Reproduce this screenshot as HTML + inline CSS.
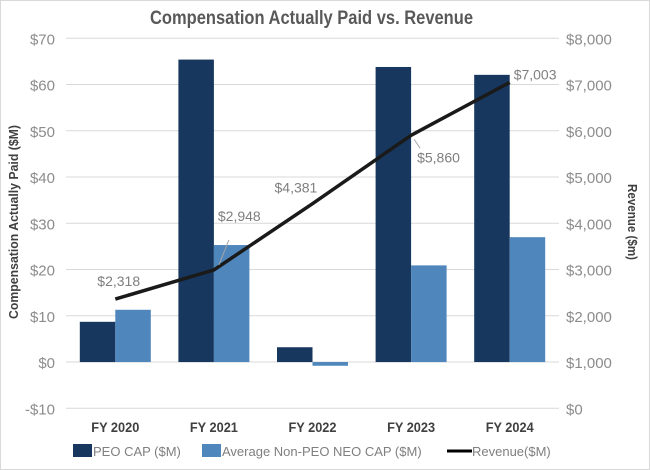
<!DOCTYPE html>
<html><head><meta charset="utf-8"><style>
body{margin:0;background:#fff;}
svg{display:block;font-family:"Liberation Sans",sans-serif;}
</style></head><body>
<svg id="chart" width="650" height="470">
<rect x="0.5" y="0.5" width="649" height="469" fill="#fff" stroke="#d9d9d9"/>
<text x="150" y="24" textLength="323" lengthAdjust="spacingAndGlyphs" font-size="19" font-weight="bold" fill="#595959">Compensation Actually Paid vs. Revenue</text>
<text transform="translate(18,222) rotate(-90)" x="-97" textLength="194" lengthAdjust="spacingAndGlyphs" font-size="13" font-weight="bold" fill="#404040">Compensation Actually Paid ($M)</text>
<text transform="translate(628,222) rotate(90)" x="-38" textLength="76" lengthAdjust="spacingAndGlyphs" font-size="13" font-weight="bold" fill="#404040">Revenue ($m)</text>
<g id="grid"></g><g id="bars"></g><g id="line"></g><g id="labels"></g>
<g font-size="13" fill="#7f7f7f">
<rect x="73" y="444" width="19" height="13" fill="#17375e"/>
<text x="93" y="456" fill="#7f7f7f">PEO CAP ($M)</text>
<rect x="202" y="444" width="19" height="13" fill="#4f86bb"/>
<text x="222" y="456" fill="#7f7f7f">Average Non-PEO NEO CAP ($M)</text>
<line x1="447" y1="451" x2="472" y2="451" stroke="#000" stroke-width="3"/>
<text x="472" y="456" fill="#7f7f7f">Revenue($M)</text>
</g>
</svg>
<script>
const categories=["FY 2020","FY 2021","FY 2022","FY 2023","FY 2024"];
const peoCap=[8.7,65.4,3.2,63.8,62.1];
const neoCap=[11.3,25.3,-0.8,20.9,27.0];
const revenue=[2318,2948,4381,5860,7003];
const revenueLabels=["$2,318","$2,948","$4,381","$5,860","$7,003"];
const leftTicks=[-10,0,10,20,30,40,50,60,70];
const rightTicks=[0,1000,2000,3000,4000,5000,6000,7000,8000];
const NS="http://www.w3.org/2000/svg";
const X0=66,X1=559,YT=38.3,YB=408.3;
const band=(X1-X0)/categories.length;
const yL=v=>YB-(v+10)/80*(YB-YT);
const yR=v=>YB-v/8000*(YB-YT);
const xc=i=>X0+band*(i+0.5);
function mk(tag,attrs,parent){const e=document.createElementNS(NS,tag);for(const k in attrs)e.setAttribute(k,attrs[k]);document.getElementById(parent).appendChild(e);return e;}
leftTicks.forEach(t=>{
 const l=mk('line',{x1:X0,x2:X1,y1:yL(t),y2:yL(t),stroke:'#d9d9d9','stroke-width':1},'grid');
 
 
 const tx=mk('text',{x:55,y:yL(t)+6,'text-anchor':'end','font-size':15,fill:'#8c8c8c'},'grid');
 tx.textContent=(t<0?'-$'+(-t):'$'+t);
 
 
});
rightTicks.forEach(t=>{
 const tx=mk('text',{x:566,y:yR(t)+6,'font-size':15,fill:'#8c8c8c'},'grid');
 tx.textContent='$'+t.toLocaleString('en-US');
 
 
});
categories.forEach((c,i)=>{
 const tx=mk('text',{x:xc(i)-24,y:432,textLength:48,lengthAdjust:'spacingAndGlyphs','font-size':14,'font-weight':'bold',fill:'#404040'},'grid');
 tx.textContent=c;
 
 
 const bw=35.5;
 [[peoCap[i],'#17375e',-bw,'bar-peo'],[neoCap[i],'#4f86bb',0,'bar-neo']].forEach(([v,col,off,nm])=>{
  const y0=yL(0),y1=yL(v);
  const r=mk('rect',{x:xc(i)+off,y:Math.min(y0,y1),width:bw,height:Math.abs(y1-y0),fill:col},'bars');
  
  
 });
});
const pts=revenue.map((v,i)=>[xc(i),yR(v)-2]);
const pl=mk('polyline',{points:pts.map(p=>p.join(',')).join(' '),fill:'none',stroke:'#1a1a1a','stroke-width':3.5,'stroke-linejoin':'round'},'line');


const off=[[-18,-13],[4,-49],[-38,-11],[6,27],[4,-3]];
revenue.forEach((v,i)=>{
 const tx=mk('text',{x:pts[i][0]+off[i][0],y:pts[i][1]+off[i][1],'font-size':14,fill:'#7f7f7f'},'labels');
 tx.textContent=revenueLabels[i];
 
 
});
[[1,[pts[1][0]+15,pts[1][1]-30],[pts[1][0]+5,pts[1][1]-5]],[3,[pts[3][0]+3,pts[3][1]+4],[pts[3][0]+9,pts[3][1]+13]]].forEach(([i,a,b])=>{
 const l=mk('line',{x1:a[0],y1:a[1],x2:b[0],y2:b[1],stroke:'#a6a6a6','stroke-width':1},'labels');
 
 
});
</script>
</body></html>
